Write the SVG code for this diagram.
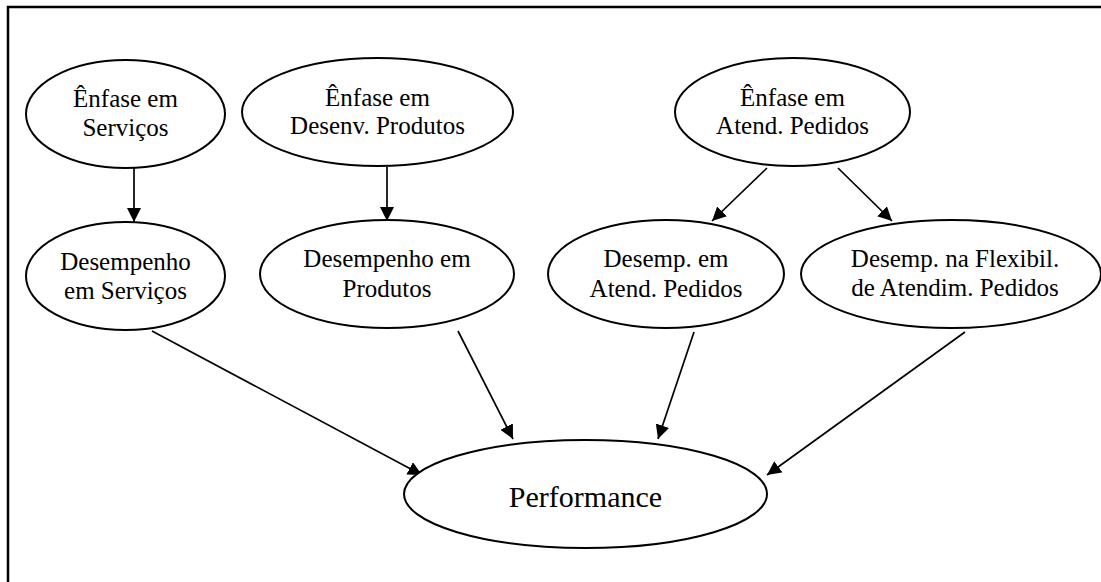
<svg xmlns="http://www.w3.org/2000/svg" width="1101" height="582" viewBox="0 0 1101 582">
<defs>
<style>
.node{fill:#fff;stroke:#000;stroke-width:2}
.edge{stroke:#000;stroke-width:1.7;fill:none;marker-end:url(#arr)}
</style>
<marker id="arr" markerUnits="userSpaceOnUse" markerWidth="14" markerHeight="14" refX="14" refY="7" orient="auto">
<path d="M0,0 L14,7 L0,14 z" fill="#000"/>
</marker>
</defs>
<rect width="1101" height="582" fill="#fff"/>
<path d="M8,582 V7 H1101" fill="none" stroke="#000" stroke-width="2.5"/>
<g id="connectors">
<line class="edge" x1="134" y1="168" x2="134" y2="222"/>
<line class="edge" x1="387" y1="167" x2="387" y2="221"/>
<line class="edge" x1="767" y1="168" x2="712" y2="221"/>
<line class="edge" x1="838" y1="168" x2="892" y2="221"/>
<line class="edge" x1="152" y1="331" x2="422" y2="475"/>
<line class="edge" x1="458" y1="331" x2="513" y2="439"/>
<line class="edge" x1="694" y1="332" x2="658" y2="439"/>
<line class="edge" x1="965" y1="332" x2="767" y2="475"/>
</g>
<g font-family="Liberation Serif, DejaVu Serif, Times New Roman, serif" font-size="25" fill="#000" text-anchor="middle">
<g id="n1">
<ellipse class="node" cx="125.5" cy="114" rx="99.5" ry="54"/>
<text x="125.5" y="107">Ênfase em</text>
<text x="125.5" y="136">Serviços</text>
</g>
<g id="n2">
<ellipse class="node" cx="377.5" cy="112" rx="135.5" ry="54"/>
<text x="377.5" y="106">Ênfase em</text>
<text x="377.5" y="134">Desenv. Produtos</text>
</g>
<g id="n3">
<ellipse class="node" cx="792.5" cy="112" rx="117.5" ry="54"/>
<text x="792.5" y="106">Ênfase em</text>
<text x="792.5" y="134">Atend. Pedidos</text>
</g>
<g id="n4">
<ellipse class="node" cx="125.5" cy="276" rx="99.5" ry="54"/>
<text x="125.5" y="270">Desempenho</text>
<text x="125.5" y="299">em Serviços</text>
</g>
<g id="n5">
<ellipse class="node" cx="387" cy="274" rx="127" ry="54"/>
<text x="387" y="267">Desempenho em</text>
<text x="387" y="297">Produtos</text>
</g>
<g id="n6">
<ellipse class="node" cx="666" cy="274" rx="118" ry="54"/>
<text x="666" y="267">Desemp. em</text>
<text x="666" y="297">Atend. Pedidos</text>
</g>
<g id="n7">
<ellipse class="node" cx="951" cy="274" rx="150" ry="54"/>
<text x="955" y="267">Desemp. na Flexibil.</text>
<text x="955" y="296">de Atendim. Pedidos</text>
</g>
<g id="n8">
<ellipse class="node" cx="585.5" cy="494" rx="181.5" ry="54"/>
<text x="585.5" y="507" font-size="30">Performance</text>
</g>
</g>
</svg>
